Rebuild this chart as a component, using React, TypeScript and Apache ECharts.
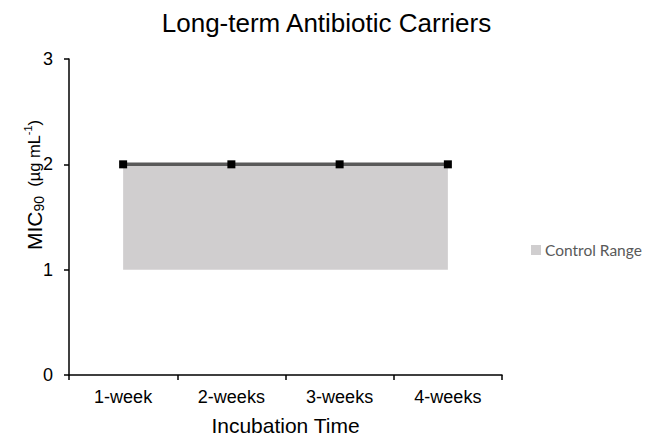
import React, { useEffect, useRef } from "react";
import * as echarts from "echarts";

const categories = ["1-week", "2-weeks", "3-weeks", "4-weeks"];
const controlLow = [1, 1, 1, 1];
const controlHigh = [2, 2, 2, 2];
const micValues = [2, 2, 2, 2];

export default function App() {
  const ref = useRef<HTMLDivElement>(null);
  useEffect(() => {
    if (!ref.current) return;
    const chart = echarts.init(ref.current, null, { renderer: "svg" });
    const rangeSize = controlHigh.map((v, i) => v - controlLow[i]);
    chart.setOption({
      animation: false,
      backgroundColor: "#ffffff",
      title: {
        text: "Long-term Antibiotic Carriers",
        left: "center",
        top: 5,
        textStyle: { fontFamily: "Liberation Sans", fontSize: 26, fontWeight: "normal", color: "#000" },
      },
      legend: {
        data: ["Control Range"],
        left: 526,
        top: 237,
        icon: "rect",
        itemWidth: 10,
        itemHeight: 10,
        itemGap: 4,
        textStyle: { fontFamily: "Lato", fontSize: 15.5, color: "#595959", padding: [0, 0, 0, -1] },
      },
      grid: { left: 69, right: 151, top: 59, bottom: 62, outerBoundsMode: "none" },
      xAxis: {
        type: "category",
        data: categories,
        boundaryGap: true,
        name: "Incubation Time",
        nameLocation: "middle",
        nameGap: 40,
        nameTextStyle: { fontFamily: "Liberation Sans", fontSize: 21, color: "#000" },
        axisLine: { lineStyle: { color: "#000", width: 1.5 } },
        axisTick: { show: true, length: 5, lineStyle: { color: "#000", width: 1.5 } },
        axisLabel: { fontFamily: "Liberation Sans", fontSize: 18, color: "#000", margin: 13 },
      },
      yAxis: {
        type: "value",
        min: 0,
        max: 3,
        interval: 1,
        splitLine: { show: false },
        axisLine: { show: true, lineStyle: { color: "#000", width: 1.5 } },
        axisTick: { show: true, length: 5, lineStyle: { color: "#000", width: 1.5 } },
        axisLabel: { fontFamily: "Liberation Sans", fontSize: 18, color: "#000", margin: 16 },
      },
      graphic: [
        {
          type: "text",
          x: 34,
          y: 185,
          rotation: Math.PI / 2,
          style: {
            text: "{a|MIC}{b|90}{c|  (µg mL}{d|-1}{c|)}",
            align: "center",
            verticalAlign: "middle",
            fill: "#000",
            rich: {
              a: { fontFamily: "Liberation Sans", fontSize: 21, fill: "#000", verticalAlign: "middle", lineHeight: 24 },
              b: { fontFamily: "Liberation Sans", fontSize: 14, fill: "#000", verticalAlign: "bottom", lineHeight: 14, padding: [12, 0, 0, 0] },
              c: { fontFamily: "Liberation Sans", fontSize: 16.5, fill: "#000", verticalAlign: "middle", lineHeight: 17 },
              d: { fontFamily: "Liberation Sans", fontSize: 11, fill: "#000", verticalAlign: "top", lineHeight: 11, padding: [0, 0, 6, 0] },
            },
          },
        },
      ],
      series: [
        {
          name: "base",
          type: "line",
          stack: "range",
          data: controlLow,
          symbol: "none",
          lineStyle: { opacity: 0 },
          silent: true,
        },
        {
          name: "Control Range",
          type: "line",
          stack: "range",
          data: rangeSize,
          symbol: "none",
          color: "#d0cecf",
          lineStyle: { width: 0, opacity: 0 },
          areaStyle: { color: "#d0cecf", opacity: 1 },
          silent: true,
        },
        {
          name: "MIC90",
          type: "line",
          data: micValues,
          symbol: "rect",
          symbolSize: 8,
          lineStyle: { color: "#595959", width: 3.5 },
          itemStyle: { color: "#000" },
          z: 5,
        },
      ],
    });
    return () => chart.dispose();
  }, []);
  return <div ref={ref} style={{ width: 653, height: 437, position: "absolute", left: 0, top: 0 }} />;
}
